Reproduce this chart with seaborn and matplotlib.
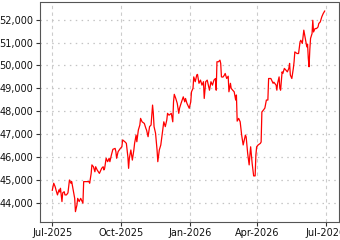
import matplotlib
matplotlib.use("Agg")
import matplotlib.pyplot as plt
import matplotlib.dates as mdates
import matplotlib.ticker as mticker
import pandas as pd
import seaborn as sns

dates = [
    "2025-07-01", "2025-07-03", "2025-07-05", "2025-07-06", "2025-07-08", "2025-07-10", "2025-07-11", "2025-07-12",
    "2025-07-14", "2025-07-15", "2025-07-17", "2025-07-18", "2025-07-20", "2025-07-22", "2025-07-24", "2025-07-26",
    "2025-07-27", "2025-07-29", "2025-07-31", "2025-08-01", "2025-08-03", "2025-08-04", "2025-08-06", "2025-08-08",
    "2025-08-10", "2025-08-11", "2025-08-12", "2025-08-16", "2025-08-19", "2025-08-20", "2025-08-22", "2025-08-23",
    "2025-08-25", "2025-08-27", "2025-08-28", "2025-08-30", "2025-09-02", "2025-09-04", "2025-09-05", "2025-09-07",
    "2025-09-08",
    "2025-09-09", "2025-09-11", "2025-09-13", "2025-09-15", "2025-09-16", "2025-09-18", "2025-09-20", "2025-09-23",
    "2025-09-24", "2025-09-25", "2025-09-27", "2025-09-30", "2025-10-02", "2025-10-03", "2025-10-06", "2025-10-08",
    "2025-10-10", "2025-10-11", "2025-10-12", "2025-10-14", "2025-10-16", "2025-10-18", "2025-10-19", "2025-10-21",
    "2025-10-22", "2025-10-24", "2025-10-26", "2025-10-27", "2025-10-29", "2025-11-01", "2025-11-03", "2025-11-04",
    "2025-11-06", "2025-11-08", "2025-11-10", "2025-11-12", "2025-11-13", "2025-11-14", "2025-11-16", "2025-11-18",
    "2025-11-19", "2025-11-21",
    "2025-11-23", "2025-11-25", "2025-11-27", "2025-11-29", "2025-12-01", "2025-12-02", "2025-12-04", "2025-12-07",
    "2025-12-09", "2025-12-10", "2025-12-11", "2025-12-13", "2025-12-15", "2025-12-17", "2025-12-18", "2025-12-20",
    "2025-12-23", "2025-12-25", "2025-12-26", "2025-12-28", "2025-12-31", "2026-01-02", "2026-01-03", "2026-01-05",
    "2026-01-06", "2026-01-08", "2026-01-10", "2026-01-11", "2026-01-13", "2026-01-15", "2026-01-17", "2026-01-19",
    "2026-01-20", "2026-01-22", "2026-01-24", "2026-01-26", "2026-01-27", "2026-01-29", "2026-01-31", "2026-02-02",
    "2026-02-04", "2026-02-05", "2026-02-06", "2026-02-08", "2026-02-10",
    "2026-02-11", "2026-02-12", "2026-02-14", "2026-02-16", "2026-02-17", "2026-02-19", "2026-02-21", "2026-02-22",
    "2026-02-24", "2026-02-25", "2026-02-27", "2026-03-01", "2026-03-03", "2026-03-04", "2026-03-05", "2026-03-07",
    "2026-03-09", "2026-03-11", "2026-03-13", "2026-03-14", "2026-03-16", "2026-03-17", "2026-03-19", "2026-03-21",
    "2026-03-22", "2026-03-23", "2026-03-25", "2026-03-27", "2026-03-29", "2026-03-30", "2026-03-31", "2026-04-02",
    "2026-04-05", "2026-04-06", "2026-04-07", "2026-04-09", "2026-04-11", "2026-04-13", "2026-04-15", "2026-04-16",
    "2026-04-19", "2026-04-21",
    "2026-04-22", "2026-04-23", "2026-04-26", "2026-04-27", "2026-04-28", "2026-04-30", "2026-05-01", "2026-05-02",
    "2026-05-04", "2026-05-05", "2026-05-07", "2026-05-09", "2026-05-11", "2026-05-13", "2026-05-14", "2026-05-15",
    "2026-05-17", "2026-05-19", "2026-05-20", "2026-05-21", "2026-05-24", "2026-05-26", "2026-05-28", "2026-05-29",
    "2026-05-31", "2026-06-02", "2026-06-04", "2026-06-06", "2026-06-07", "2026-06-08", "2026-06-09", "2026-06-10",
    "2026-06-11", "2026-06-13", "2026-06-14", "2026-06-15", "2026-06-17", "2026-06-19", "2026-06-21", "2026-06-22",
    "2026-06-24", "2026-06-26", "2026-06-28", "2026-06-30",
]

values = [
    44540, 44860, 44700, 44570, 44350, 44570, 44480, 44640,
    44060, 44440, 44490, 44350, 44350, 44440, 45000, 44860,
    44930, 44570, 44200, 43620, 43910, 44200, 44060, 44200,
    44060, 43990, 44930, 44930, 44930, 44860, 45290, 45660,
    45580, 45360, 45580, 45440, 45290, 45440, 45510, 45580,
    45440,
    45510, 45950, 45800, 45950, 45800, 46090, 46340, 46380,
    46240, 45950, 46240, 46380, 46450, 46750, 46670, 46600,
    46020, 45510, 45950, 46310, 45870, 46310, 46600, 46960,
    46670, 47180, 47400, 47690, 47540, 47470, 47260, 47180,
    46890, 47330, 47400, 48270, 47910, 47330, 47040, 46310,
    45800, 46310,
    46530, 47040, 47540, 47330, 47620, 47910, 47830, 47910,
    47540, 48410, 48740, 48560, 48340, 47910, 48130, 48340,
    48630, 48410, 48560, 48340, 48130, 48410, 48850, 49000,
    49500, 49290, 49580, 49610, 49220, 49360, 49140, 49290,
    48560, 49290, 49360, 49070, 48920, 49290, 49140, 49360,
    49430, 48920, 50160, 50160, 50230,
    50090, 49500, 49490, 49580, 49650, 49430, 49530, 48850,
    49220, 49000, 48920, 48850, 48490, 48710, 47570, 47690,
    47540, 46960, 46530, 46670, 46960, 46880, 46170, 45660,
    46090, 46450, 45730, 45180, 45180, 46090, 46450, 46530,
    46600, 46660, 47970, 48050, 48140, 48490, 48490, 49430,
    49430, 49290,
    49220, 49270, 49140, 48920, 49220, 49500, 49000, 48920,
    49720, 49650, 49870, 49800, 49720, 49870, 50090, 49580,
    49430, 49870, 50160, 50590, 50520, 50520, 51030, 51100,
    50960, 51540, 51180, 50810, 50930, 50310, 49940, 50670,
    51180, 51390, 51970, 51460, 51610, 51610, 51680, 51830,
    51900, 52120, 52270, 52380,
]

y_ticks = [44000, 45000, 46000, 47000, 48000, 49000, 50000, 51000, 52000]
x_ticks = ["2025-07-01", "2025-10-01", "2026-01-01", "2026-04-01", "2026-07-01"]

df = pd.DataFrame({"date": pd.to_datetime(dates), "value": values})

sns.set_style("white")
plt.rcParams["font.family"] = ["DejaVu Sans"]

fig = plt.figure(figsize=(3.4, 2.4), dpi=100)
ax = fig.add_axes([39.5 / 340, 1 - 221.5 / 240, (339 - 39.5) / 340, (221.5 - 1.5) / 240])

sns.lineplot(data=df, x="date", y="value", ax=ax, color="#ff0000", linewidth=0.9)

ax.set_xlim(pd.Timestamp("2025-06-14"), pd.Timestamp("2026-07-19"))
ax.set_ylim(43190, 52790)

ax.set_xticks(pd.to_datetime(x_ticks))
ax.xaxis.set_major_formatter(mdates.DateFormatter("%b-%Y"))
ax.set_yticks(y_ticks)
ax.yaxis.set_major_formatter(mticker.FuncFormatter(lambda v, p: f"{int(v):,}"))

ax.set_xlabel("")
ax.set_ylabel("")
ax.tick_params(axis="both", which="major", labelsize=7, length=3, width=0.8,
               color="#333333", labelcolor="#111111", pad=1.5, direction="out")
ax.tick_params(axis="x", bottom=True)
ax.tick_params(axis="y", left=True)

ax.yaxis.grid(True, color="#c4c4c4", linestyle=(0, (1.2, 3.5)), linewidth=0.9)
ax.xaxis.grid(True, color="#cccccc", linestyle=(0, (3, 3)), linewidth=0.8)
ax.set_axisbelow(True)

for s in ax.spines.values():
    s.set_visible(True)
    s.set_color("#555555")
    s.set_linewidth(0.8)
    s.set_linestyle((0, (1, 1)))

fig.savefig("out.png", dpi=100)
